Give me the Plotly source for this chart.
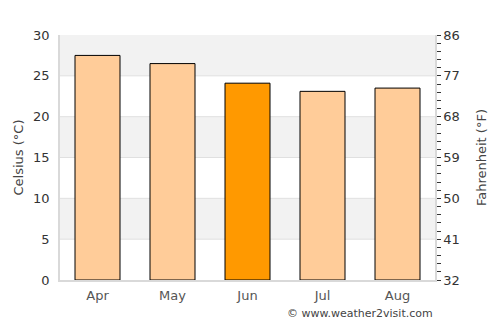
import plotly.graph_objects as go

months = ["Apr", "May", "Jun", "Jul", "Aug"]
celsius = [27.5, 26.5, 24.1, 23.1, 23.5]
colors = ["#ffcc99", "#ffcc99", "#ff9900", "#ffcc99", "#ffcc99"]
c_ticks = [0, 5, 10, 15, 20, 25, 30]
f_ticks = [32, 41, 50, 59, 68, 77, 86]

fig = go.Figure()
fig.add_trace(go.Bar(x=months, y=celsius, marker=dict(color=colors, line=dict(color="#000000", width=1)),
                     width=0.6, hoverinfo="skip"))
fig.add_trace(go.Scatter(x=months, y=[c * 9 / 5 + 32 for c in celsius], yaxis="y2",
                         mode="markers", marker=dict(opacity=0), hoverinfo="skip", showlegend=False))

shapes = []
for lo, hi in [(5, 10), (15, 20), (25, 30)]:
    shapes.append(dict(type="rect", xref="paper", yref="y", x0=0, x1=1, y0=lo, y1=hi,
                       fillcolor="#f2f2f2", line=dict(width=0), layer="below"))
for v in c_ticks[1:-1]:
    shapes.append(dict(type="line", xref="paper", yref="y", x0=0, x1=1, y0=v, y1=v,
                       line=dict(color="#e0e0e0", width=1), layer="below"))

fig.update_layout(
    width=500, height=325,
    margin=dict(l=60, r=65, t=35, b=45),
    paper_bgcolor="white", plot_bgcolor="white",
    showlegend=False,
    shapes=shapes,
    font=dict(family="DejaVu Sans", size=13, color="#333333"),
    xaxis=dict(showgrid=False, showline=True, linecolor="#d9d9d9", linewidth=1.5,
               tickfont=dict(color="#555555", size=13), ticks="", range=[-0.5, 4.5],
               ticklabelstandoff=3, automargin=False),
    yaxis=dict(range=[0, 30], tickvals=c_ticks, showgrid=False, zeroline=False,
               showline=True, linecolor="#d9d9d9", linewidth=1.5, ticks="",
               ticklabelstandoff=6, automargin=False,
               title=dict(text="Celsius (°C)", font=dict(size=13, color="#444444"), standoff=7),
               tickfont=dict(size=13, color="#333333")),
    yaxis2=dict(range=[32, 86], tickvals=f_ticks, overlaying="y", side="right",
                showgrid=False, zeroline=False, showline=True, linecolor="#d9d9d9", linewidth=1.5,
                ticks="outside", ticklen=4, tickcolor="#333333", tickwidth=1, automargin=False,
                minor=dict(dtick=1.8, tick0=32, ticks="outside", ticklen=4, tickcolor="#333333", tickwidth=1),
                title=dict(text="Fahrenheit (°F)", font=dict(size=13, color="#444444"), standoff=18),
                tickfont=dict(size=13, color="#333333")),
    annotations=[dict(text="© www.weather2visit.com", xref="paper", yref="paper", x=1, y=0,
                      xanchor="right", yanchor="top", yshift=-25, showarrow=False,
                      font=dict(size=11, color="#444444"))],
)

fig.write_html("out.html")
